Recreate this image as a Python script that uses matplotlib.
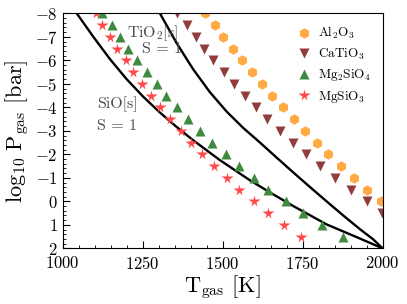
import matplotlib
matplotlib.use("Agg")
import matplotlib.pyplot as plt
from matplotlib.ticker import AutoMinorLocator

# fonts: computer modern look
plt.rcParams['font.family'] = 'cmr10'
plt.rcParams['mathtext.fontset'] = 'cm'
plt.rcParams['axes.formatter.use_mathtext'] = True

# data
# ---

# condensation curves (T [K], log10 P [bar])
al2o3_T = [1446, 1476, 1502, 1531, 1560, 1592, 1623, 1653, 1689, 1723,
           1758, 1794, 1830, 1870, 1911, 1952, 1994]
al2o3_P = [-8, -7.5, -7, -6.5, -6, -5.5, -5, -4.5, -4, -3.5,
           -3, -2.5, -2, -1.5, -1, -0.5, 0]

catio3_T = [1358, 1388, 1416, 1442, 1471, 1503, 1535, 1570, 1604, 1639,
            1679, 1719, 1760, 1804, 1851, 1900, 1950, 1997]
catio3_P = [-8, -7.5, -7, -6.5, -6, -5.5, -5, -4.5, -4, -3.5,
            -3, -2.5, -2, -1.5, -1, -0.5, 0, 0.5]

mg2sio4_T = [1124, 1153, 1179, 1205, 1233, 1263, 1294, 1323, 1356, 1393,
             1429, 1466, 1509, 1552, 1598, 1643, 1697, 1752, 1811, 1875]
mg2sio4_P = [-8, -7.5, -7, -6.5, -6, -5.5, -5, -4.5, -4, -3.5,
             -3, -2.5, -2, -1.5, -1, -0.5, 0, 0.5, 1, 1.5]

mgsio3_T = [1103, 1124, 1148, 1171, 1198, 1221, 1247, 1275, 1304, 1335,
            1369, 1401, 1436, 1473, 1513, 1552, 1598, 1643, 1692, 1744]
mgsio3_P = [-8, -7.5, -7, -6.5, -6, -5.5, -5, -4.5, -4, -3.5,
            -3, -2.5, -2, -1.5, -1, -0.5, 0, 0.5, 1, 1.5]

# S = 1 lines
sio_T = [1044, 1096, 1148, 1200, 1252, 1304, 1356, 1408, 1491, 1585,
         1648, 1721, 1825, 1929, 2000]
sio_P = [-8, -7.0, -6.05, -5.2, -4.45, -3.78, -3.17, -2.60, -1.76, -0.90,
         -0.38, 0.2, 0.98, 1.58, 2]

tio2_T = [1304, 1356, 1408, 1460, 1512, 1564, 1617, 1669, 1721, 1773,
          1825, 1877, 1929, 1971, 2000]
tio2_P = [-8, -6.74, -5.62, -4.65, -3.83, -3.13, -2.5, -1.86, -1.23, -0.61,
          0.0, 0.6, 1.18, 1.62, 2]


# plot
# ---

fig = plt.figure(figsize=(4.07, 3.04), dpi=100)
ax = fig.add_axes([0.154, 0.183, 0.786, 0.773])

ax.plot(sio_T, sio_P, 'k-', lw=1.7)
ax.plot(tio2_T, tio2_P, 'k-', lw=1.7)

ms = 7.5
ax.plot(al2o3_T, al2o3_P, 'h', color='#ffaa44', ms=ms, mec='none', label=r'Al$_2$O$_3$')
ax.plot(catio3_T, catio3_P, 'v', color='#913d3d', ms=ms, mec='none', label=r'CaTiO$_3$')
ax.plot(mg2sio4_T, mg2sio4_P, '^', color='#3f8a3f', ms=ms, mec='none', label=r'Mg$_2$SiO$_4$')
ax.plot(mgsio3_T, mgsio3_P, '*', color='#ff4848', ms=ms + 1, mec='none', label=r'MgSiO$_3$')

ax.text(1201, -7.16, r'TiO$_2$[s]', fontsize=11.5, color='0.3', va='center')
ax.text(1248, -6.48, r'S = 1', fontsize=11.5, color='0.3', va='center')
ax.text(1107, -4.14, r'SiO[s]', fontsize=11.5, color='0.3', va='center')
ax.text(1107, -3.2, r'S = 1', fontsize=11.5, color='0.3', va='center')

ax.set_xlim(1000, 2000)
ax.set_ylim(2, -8)
ax.set_xticks([1000, 1250, 1500, 1750, 2000])
ax.set_yticks(range(-8, 3))
ax.xaxis.set_minor_locator(AutoMinorLocator(5))
ax.yaxis.set_minor_locator(AutoMinorLocator(5))
ax.tick_params(which='both', direction='in', top=False, right=False, labelsize=12)
ax.tick_params(which='major', length=5)
ax.tick_params(which='minor', length=2.5)
ax.tick_params(axis='x', pad=5)

ax.set_xlabel(r'$\mathrm{T_{gas}}$ [K]', fontsize=16, labelpad=1)
ax.set_ylabel(r'$\mathrm{log_{10}\ P_{gas}}$ [bar]', fontsize=16, labelpad=2)

ax.legend(loc='upper right', frameon=False, fontsize=9.5, handletextpad=0.3,
          borderaxespad=0.5, labelspacing=0.4, handlelength=1.5)

plt.savefig('out.png', dpi=100)
plt.close()
